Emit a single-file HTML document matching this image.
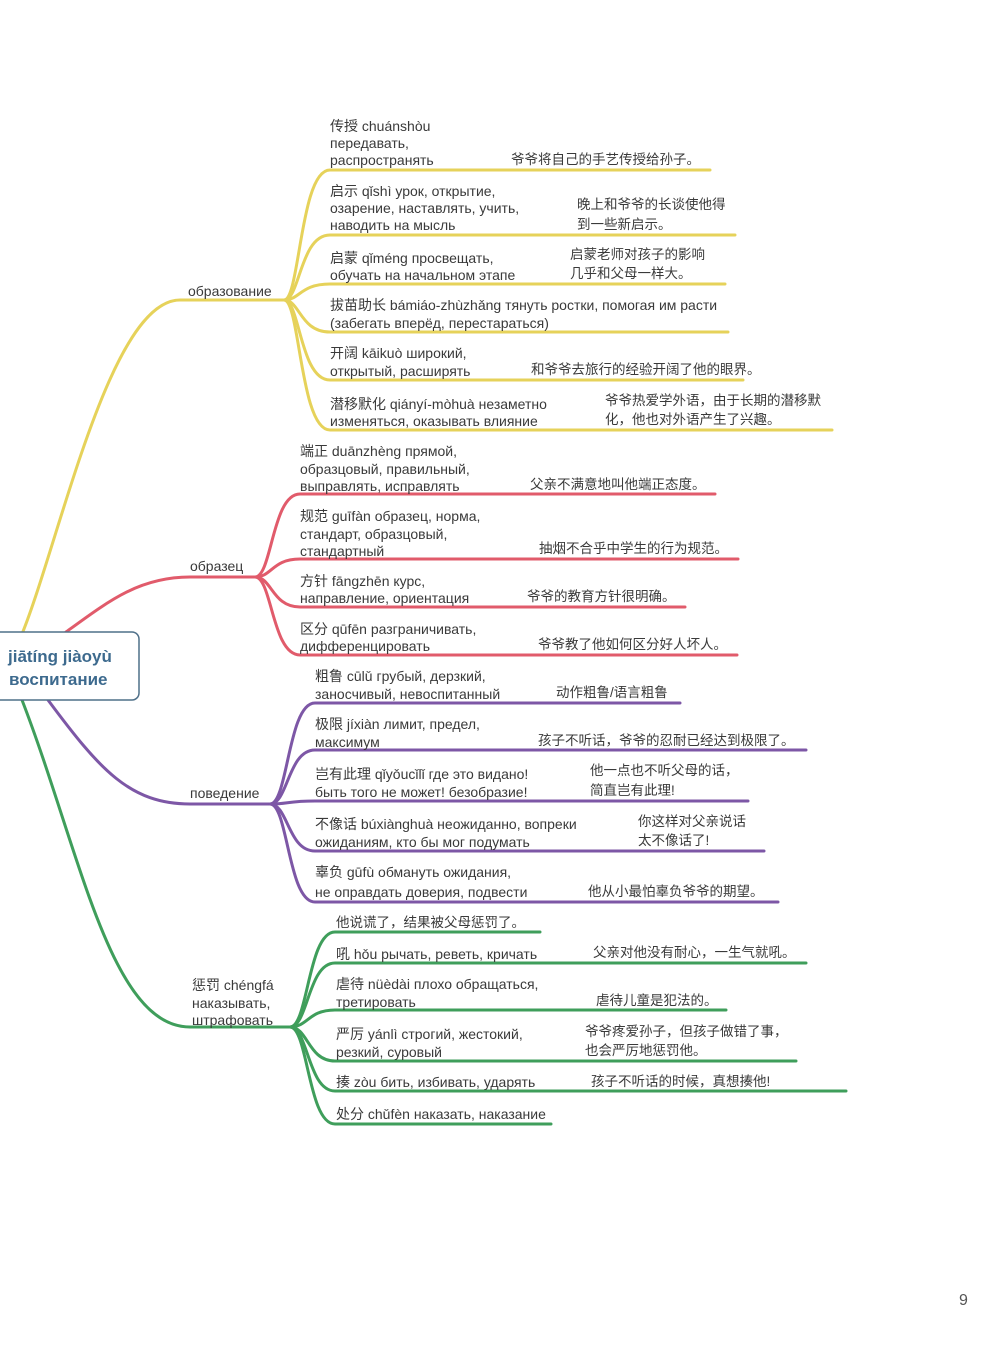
<!DOCTYPE html>
<html><head><meta charset="utf-8"><style>
html,body{margin:0;padding:0;background:#fff;}
svg text{font-family:"Liberation Sans","Noto Sans CJK SC",sans-serif;font-size:14px;fill:#3a3a3a;}
svg text.c{font-size:13.5px;}
</style></head><body>
<svg width="1000" height="1349" viewBox="0 0 1000 1349" xmlns="http://www.w3.org/2000/svg">
<g fill="none" stroke-width="3" stroke-linecap="round">
<g stroke="#e6d25a">
<path d="M22 634 C60 540,110 300,180 300 L284 300"/>
<path d="M284 300 C300 300,300 170,330 170 L710 170"/>
<path d="M284 300 C300 300,300 235,330 235 L735 235"/>
<path d="M284 300 C300 300,300 284,330 284 L725 284"/>
<path d="M284 300 C300 300,300 332,330 332 L728 332"/>
<path d="M284 300 C300 300,300 380,330 380 L743 380"/>
<path d="M284 300 C300 300,300 430,330 430 L832 430"/>
</g>
<g stroke="#e15b6b">
<path d="M66 632 C110 600,140 577,190 577 L255 577"/>
<path d="M255 577 C272 577,272 494,300 494 L715 494"/>
<path d="M255 577 C272 577,272 559,300 559 L738 559"/>
<path d="M255 577 C272 577,272 607,300 607 L685 607"/>
<path d="M255 577 C272 577,272 655,300 655 L737 655"/>
</g>
<g stroke="#7d57a6">
<path d="M48 700 C100 770,130 804,190 804 L270 804"/>
<path d="M270 804 C288 804,288 703,315 703 L680 703"/>
<path d="M270 804 C288 804,288 750,315 750 L806 750"/>
<path d="M270 804 C288 804,288 801,315 801 L748 801"/>
<path d="M270 804 C288 804,288 851,315 851 L764 851"/>
<path d="M270 804 C288 804,288 902,315 902 L778 902"/>
</g>
<g stroke="#3f9e5b">
<path d="M22 700 C80 850,110 1027,190 1027 L290 1027"/>
<path d="M290 1027 C308 1027,308 932,335 932 L540 932"/>
<path d="M290 1027 C308 1027,308 963,335 963 L806 963"/>
<path d="M290 1027 C308 1027,308 1010,335 1010 L726 1010"/>
<path d="M290 1027 C308 1027,308 1061,335 1061 L796 1061"/>
<path d="M290 1027 C308 1027,308 1091,335 1091 L846 1091"/>
<path d="M290 1027 C308 1027,308 1124,335 1124 L551 1124"/>
</g>
</g>
<rect x="-8" y="632" width="147" height="68" rx="7" fill="#fff" stroke="#4f7089" stroke-width="1.5"/>
<text x="8" y="662" style="font-size:17px;font-weight:bold;fill:#3d6a8e">jiātíng jiàoyù</text>
<text x="9" y="685" style="font-size:17px;font-weight:bold;fill:#3d6a8e">воспитание</text>

<text x="188" y="296">образование</text>
<text x="330" y="131">传授 chuánshòu</text>
<text x="330" y="148">передавать,</text>
<text x="330" y="165">распространять</text>
<text class="c" x="511" y="164">爷爷将自己的手艺传授给孙子。</text>
<text x="330" y="196">启示 qǐshì урок, открытие,</text>
<text x="330" y="213">озарение, наставлять, учить,</text>
<text x="330" y="230">наводить на мысль</text>
<text class="c" x="577" y="209">晚上和爷爷的长谈使他得</text>
<text class="c" x="577" y="229">到一些新启示。</text>
<text x="330" y="263">启蒙 qǐméng просвещать,</text>
<text x="330" y="280">обучать на начальном этапе</text>
<text class="c" x="570" y="259">启蒙老师对孩子的影响</text>
<text class="c" x="570" y="278">几乎和父母一样大。</text>
<text x="330" y="310">拔苗助长 bámiáo-zhùzhǎng тянуть ростки, помогая им расти</text>
<text x="330" y="328">(забегать вперёд, перестараться)</text>
<text x="330" y="358">开阔 kāikuò широкий,</text>
<text x="330" y="376">открытый, расширять</text>
<text class="c" x="531" y="374">和爷爷去旅行的经验开阔了他的眼界。</text>
<text x="330" y="409">潜移默化 qiányí-mòhuà незаметно</text>
<text x="330" y="426">изменяться, оказывать влияние</text>
<text class="c" x="605" y="405">爷爷热爱学外语，由于长期的潜移默</text>
<text class="c" x="605" y="424">化，他也对外语产生了兴趣。</text>

<text x="190" y="571">образец</text>
<text x="300" y="456">端正 duānzhèng прямой,</text>
<text x="300" y="474">образцовый, правильный,</text>
<text x="300" y="491">выправлять, исправлять</text>
<text class="c" x="530" y="489">父亲不满意地叫他端正态度。</text>
<text x="300" y="521">规范 guīfàn образец, норма,</text>
<text x="300" y="539">стандарт, образцовый,</text>
<text x="300" y="556">стандартный</text>
<text class="c" x="539" y="553">抽烟不合乎中学生的行为规范。</text>
<text x="300" y="586">方针 fāngzhēn курс,</text>
<text x="300" y="603">направление, ориентация</text>
<text class="c" x="527" y="601">爷爷的教育方针很明确。</text>
<text x="300" y="634">区分 qūfēn разграничивать,</text>
<text x="300" y="651">дифференцировать</text>
<text class="c" x="538" y="649">爷爷教了他如何区分好人坏人。</text>

<text x="190" y="798">поведение</text>
<text x="315" y="681">粗鲁 cūlǔ грубый, дерзкий,</text>
<text x="315" y="699">заносчивый, невоспитанный</text>
<text class="c" x="556" y="697">动作粗鲁/语言粗鲁</text>
<text x="315" y="729">极限 jíxiàn лимит, предел,</text>
<text x="315" y="747">максимум</text>
<text class="c" x="538" y="745">孩子不听话，爷爷的忍耐已经达到极限了。</text>
<text x="315" y="779">岂有此理 qǐyǒucǐlǐ где это видано!</text>
<text x="315" y="797">быть того не может! безобразие!</text>
<text class="c" x="590" y="775">他一点也不听父母的话，</text>
<text class="c" x="590" y="795">简直岂有此理!</text>
<text x="315" y="829">不像话 búxiànghuà неожиданно, вопреки</text>
<text x="315" y="847">ожиданиям, кто бы мог подумать</text>
<text class="c" x="638" y="826">你这样对父亲说话</text>
<text class="c" x="638" y="845">太不像话了!</text>
<text x="315" y="877">辜负 gūfù обмануть ожидания,</text>
<text x="315" y="897">не оправдать доверия, подвести</text>
<text class="c" x="588" y="896">他从小最怕辜负爷爷的期望。</text>

<text x="192" y="990">惩罚 chéngfá</text>
<text x="192" y="1008">наказывать,</text>
<text x="192" y="1025">штрафовать</text>
<text class="c" x="336" y="927">他说谎了，结果被父母惩罚了。</text>
<text x="336" y="959">吼 hǒu рычать, реветь, кричать</text>
<text class="c" x="593" y="957">父亲对他没有耐心，一生气就吼。</text>
<text x="336" y="989">虐待 nüèdài плохо обращаться,</text>
<text x="336" y="1007">третировать</text>
<text class="c" x="596" y="1005">虐待儿童是犯法的。</text>
<text x="336" y="1039">严厉 yánlì строгий, жестокий,</text>
<text x="336" y="1057">резкий, суровый</text>
<text class="c" x="585" y="1036">爷爷疼爱孙子，但孩子做错了事，</text>
<text class="c" x="585" y="1055">也会严厉地惩罚他。</text>
<text x="336" y="1087">揍 zòu бить, избивать, ударять</text>
<text class="c" x="591" y="1086">孩子不听话的时候，真想揍他!</text>
<text x="336" y="1119">处分 chǔfèn наказать, наказание</text>

<text x="959" y="1305" style="font-size:16px;fill:#555">9</text>
</svg>
</body></html>
